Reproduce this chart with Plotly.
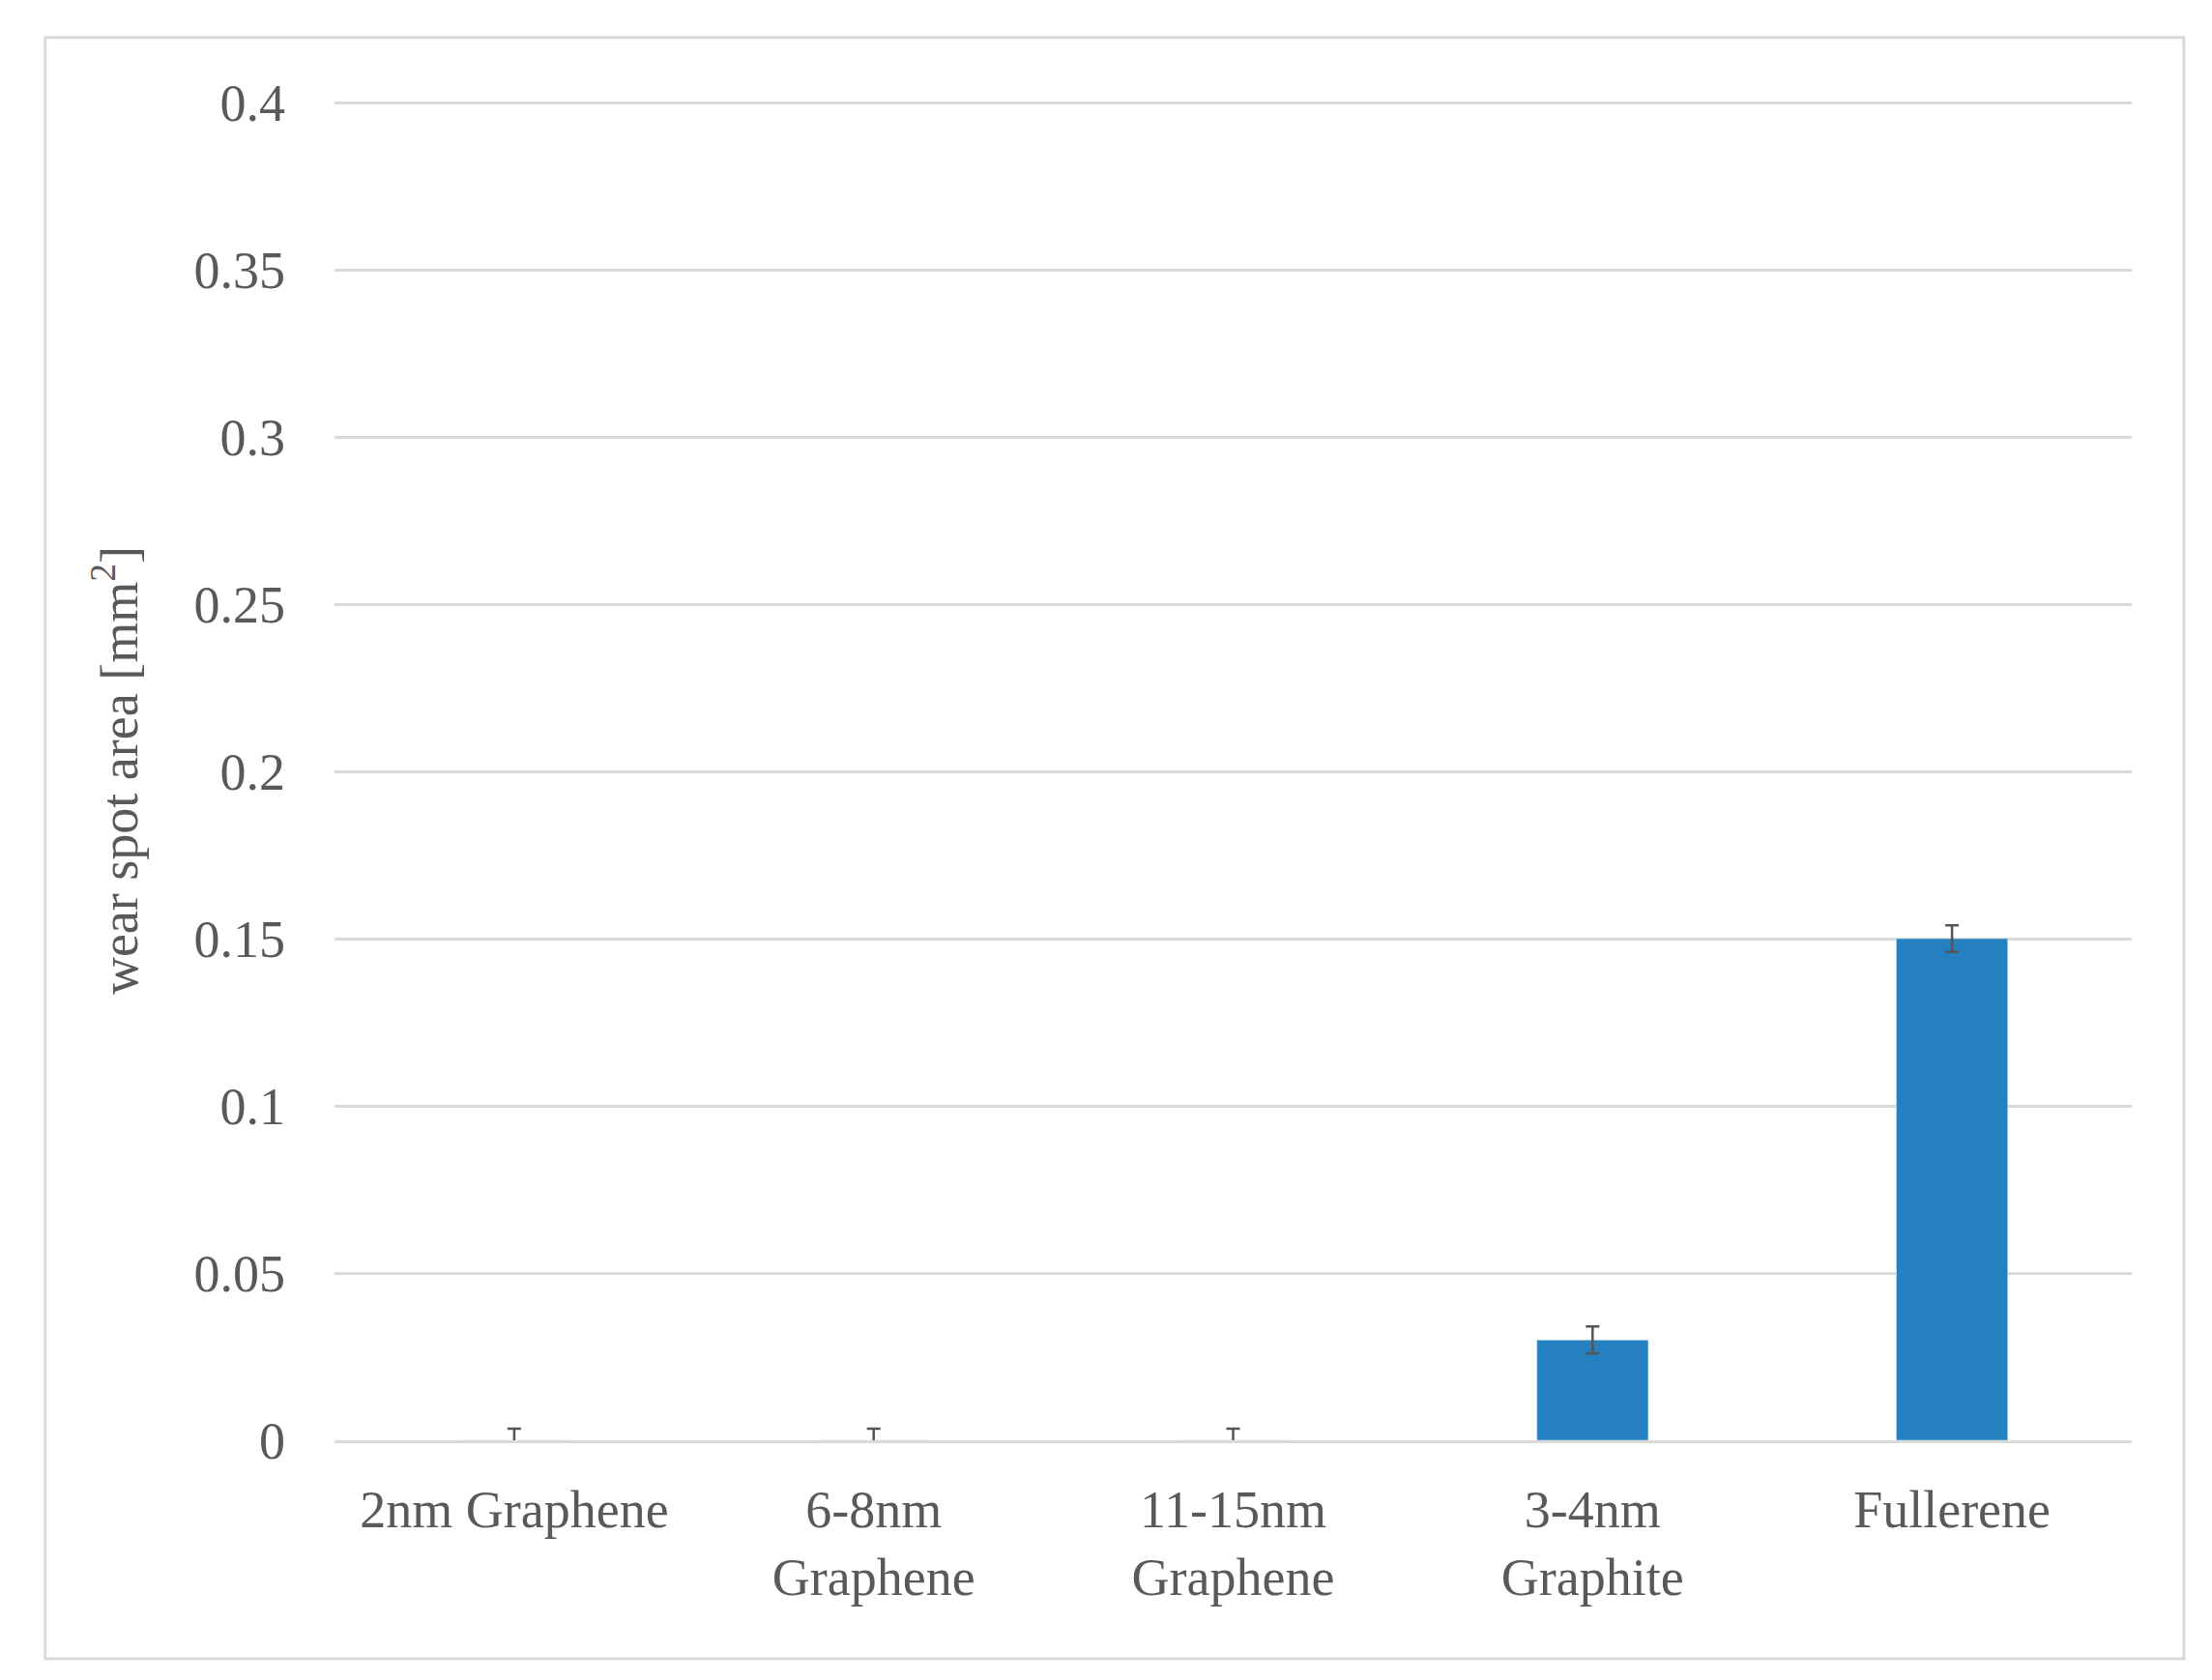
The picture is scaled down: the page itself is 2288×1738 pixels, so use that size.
import plotly.graph_objects as go

categories = ["2nm Graphene", "6-8nm<br>Graphene", "11-15nm<br>Graphene", "3-4nm<br>Graphite", "Fullerene"]
values = [0.0, 0.0, 0.0, 0.03, 0.15]
errors = [0.0035, 0.0035, 0.0035, 0.004, 0.004]
yticks = [0, 0.05, 0.1, 0.15, 0.2, 0.25, 0.3, 0.35, 0.4]
yticklabels = ["0", "0.05", "0.1", "0.15", "0.2", "0.25", "0.3", "0.35", "0.4"]

font = "Liberation Serif"
fig = go.Figure(go.Bar(
    x=categories, y=values, width=0.31, marker_color="#2480BF",
    error_y=dict(type="data", array=errors, color="#555555", thickness=2.5, width=7),
))
fig.update_layout(
    width=2288, height=1738, paper_bgcolor="white", plot_bgcolor="white",
    margin=dict(l=338, r=91, t=96, b=256),
    font=dict(family=font, size=54, color="#595959"),
    showlegend=False, bargap=0.69,
    xaxis=dict(showline=True, linecolor="#D9D9D9", linewidth=3, ticks="", tickfont=dict(size=54),
               ticklabelstandoff=22),
    yaxis=dict(range=[0, 0.4006], tickvals=yticks, ticktext=yticklabels, showgrid=True,
               gridcolor="#D9D9D9", gridwidth=3, zeroline=False, ticks="", ticklen=0,
               ticklabelstandoff=50,
               title=dict(text="wear spot area [mm<sup>2</sup>]", font=dict(size=54), standoff=40)),
    shapes=[dict(type="rect", xref="paper", yref="paper", x0=-0.161, x1=1.029, y0=-0.163, y1=1.047,
                 line=dict(color="#D9D9D9", width=3))],
)
fig.write_html("out.html")
